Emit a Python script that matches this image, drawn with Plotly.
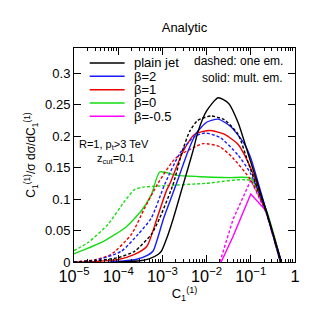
import numpy as np
import plotly.graph_objects as go

# ---- data (log10 of C1 and distribution values) ----
plain_mult_lx = [-4.0, -3.5, -3.3, -3.1, -3.02, -2.9, -2.75, -2.53, -2.31, -2.19, -2.0, -1.74, -1.5, -1.29, -1.06, -0.84, -0.65, -0.31]
plain_mult_y  = [0.0, 0.002, 0.005, 0.012, 0.0175, 0.038, 0.07, 0.123, 0.176, 0.208, 0.240, 0.261, 0.252, 0.222, 0.172, 0.123, 0.081, 0.0]

plain_one_lx = [-5.0, -4.5, -4.0, -3.63, -3.25, -3.06, -2.76, -2.55, -2.38, -2.2, -1.9, -1.6, -1.29, -1.06, -0.84, -0.65, -0.33]
plain_one_y  = [0.0, 0.002, 0.007, 0.017, 0.044, 0.07, 0.123, 0.176, 0.208, 0.225, 0.232, 0.226, 0.203, 0.158, 0.115, 0.080, 0.0]

b2_mult_lx = [-4.2, -3.6, -3.33, -3.21, -2.97, -2.69, -2.42, -2.23, -2.0, -1.74, -1.45, -1.14, -1.0, -0.65, -0.31]
b2_mult_y  = [0.0, 0.004, 0.011, 0.0175, 0.07, 0.123, 0.176, 0.205, 0.222, 0.227, 0.215, 0.187, 0.165, 0.081, 0.0]

b2_one_lx = [-5.0, -4.5, -3.93, -3.55, -3.25, -2.95, -2.61, -2.3, -2.04, -1.7, -1.29, -1.0, -0.65, -0.33]
b2_one_y  = [0.0, 0.003, 0.017, 0.044, 0.07, 0.123, 0.172, 0.198, 0.205, 0.198, 0.170, 0.140, 0.079, 0.0]

b1_mult_lx = [-5.0, -4.5, -4.0, -3.63, -3.35, -3.12, -2.91, -2.84, -2.53, -2.27, -1.93, -1.6, -1.29, -1.02, -0.65, -0.31]
b1_mult_y  = [0.0, 0.001, 0.004, 0.012, 0.025, 0.07, 0.113, 0.123, 0.176, 0.203, 0.209, 0.203, 0.187, 0.152, 0.081, 0.0]

b1_one_lx = [-5.0, -4.5, -4.16, -3.70, -3.40, -3.1, -2.7, -2.08, -1.7, -1.4, -1.0, -0.65, -0.33]
b1_one_y  = [0.0, 0.004, 0.012, 0.044, 0.086, 0.125, 0.165, 0.188, 0.183, 0.165, 0.130, 0.078, 0.0]

b0_mult_lx = [-5.0, -4.68, -4.38, -3.85, -3.48, -3.25, -3.06, -2.7, -2.0, -1.5, -1.0, -0.65, -0.31]
b0_mult_y  = [0.013, 0.022, 0.031, 0.054, 0.081, 0.107, 0.143, 0.138, 0.135, 0.134, 0.133, 0.083, 0.0]

b0_one_lx = [-5.0, -4.68, -4.23, -3.85, -3.63, -3.44, -3.0, -2.0, -1.0, -0.65, -0.33]
b0_one_y  = [0.018, 0.031, 0.060, 0.097, 0.115, 0.119, 0.121, 0.125, 0.129, 0.078, 0.0]

bm05_mult_lx = [-1.67, -1.40, -1.0, -0.65, -0.31]
bm05_mult_y  = [0.0, 0.041, 0.108, 0.081, 0.0]

bm05_one_lx = [-1.70, -1.40, -1.0, -0.65, -0.33]
bm05_one_y  = [0.0, 0.068, 0.130, 0.078, 0.0]

y_ticks = [0, 0.05, 0.1, 0.15, 0.2, 0.25, 0.3]
y_tick_text = ["0", "0.05", "0.1", "0.15", "0.2", "0.25", "0.3"]
legend_labels = ["plain jet", "β=2", "β=1", "β=0", "β=-0.5"]

BLACK, BLUE, RED, GREEN, MAG = "#000000", "#1a1aff", "#ee0000", "#11dd11", "#ff00ff"
legend_colors = [BLACK, BLUE, RED, GREEN, MAG]

fig = go.Figure()

def add(lx, y, color, dashed, shape="spline"):
    fig.add_trace(go.Scatter(
        x=10 ** np.array(lx), y=y, mode="lines",
        line=dict(color=color, width=1.4, dash="3px,2px" if dashed else "solid",
                  shape=shape, smoothing=0.6 if shape == "spline" else None),
        showlegend=False, hoverinfo="skip"))

add(bm05_one_lx, bm05_one_y, MAG, True, "linear")
add(bm05_mult_lx, bm05_mult_y, MAG, False, "linear")
add(b0_one_lx, b0_one_y, GREEN, True)
add(b0_mult_lx, b0_mult_y, GREEN, False)
add(b1_one_lx, b1_one_y, RED, True)
add(b1_mult_lx, b1_mult_y, RED, False)
add(b2_one_lx, b2_one_y, BLUE, True)
add(b2_mult_lx, b2_mult_y, BLUE, False)
add(plain_one_lx, plain_one_y, BLACK, True)
add(plain_mult_lx, plain_mult_y, BLACK, False)

FONT = "Liberation Sans, Arial, sans-serif"

# manual legend
shapes = []
annotations = []
row_y = [0.930, 0.868, 0.805, 0.743, 0.681]
for lab, col, yy in zip(legend_labels, legend_colors, row_y):
    shapes.append(dict(type="line", xref="paper", yref="paper", x0=0.071, x1=0.229, y0=yy, y1=yy,
                       line=dict(color=col, width=1.6)))
    annotations.append(dict(xref="paper", yref="paper", x=0.262, y=yy, text=lab, showarrow=False,
                            xanchor="left", yanchor="middle", font=dict(size=13, color="black", family=FONT)))

annotations += [
    dict(xref="paper", yref="paper", x=0.955, y=0.939, text="dashed: one em.", showarrow=False,
         xanchor="right", yanchor="middle", font=dict(size=12, color="black", family=FONT)),
    dict(xref="paper", yref="paper", x=0.955, y=0.860, text="solid: mult. em.", showarrow=False,
         xanchor="right", yanchor="middle", font=dict(size=12, color="black", family=FONT)),
    dict(xref="paper", yref="paper", x=0.181, y=0.547, text="R=1, p<sub>t</sub>>3 TeV", showarrow=False,
         xanchor="center", yanchor="middle", font=dict(size=11, color="black", family=FONT)),
    dict(xref="paper", yref="paper", x=0.19, y=0.483, text="z<sub>cut</sub>=0.1", showarrow=False,
         xanchor="center", yanchor="middle", font=dict(size=11, color="black", family=FONT)),
]

fig.update_layout(
    width=311, height=311,
    margin=dict(l=66, r=24, t=40, b=57),
    paper_bgcolor="white", plot_bgcolor="white",
    font=dict(family=FONT, size=13, color="black"),
    title=dict(text="Analytic", x=0.5675, xanchor="center", y=0.937, yanchor="middle",
               font=dict(size=13, family=FONT, color="black")),
    shapes=shapes, annotations=annotations,
    showlegend=False,
)
fig.update_xaxes(type="log", range=[-5, 0], dtick=1, exponentformat="power",
                 showline=True, linecolor="black", linewidth=1, mirror="ticks",
                 ticks="inside", ticklen=7, tickcolor="black", showgrid=False, zeroline=False,
                 minor=dict(ticks="inside", ticklen=3, tickcolor="black", showgrid=False),
                 tickfont=dict(size=13, family=FONT),
                 title=dict(text="C<sub>1</sub><sup>(1)</sup>", font=dict(size=13, family=FONT), standoff=4))
fig.update_yaxes(range=[0, 0.34], tickvals=y_ticks, ticktext=y_tick_text,
                 showline=True, linecolor="black", linewidth=1, mirror="ticks",
                 ticks="inside", ticklen=7, tickcolor="black", showgrid=False, zeroline=False,
                 tickfont=dict(size=13, family=FONT),
                 title=dict(text="C<sub>1</sub><sup>(1)</sup>/σ dσ/dC<sub>1</sub><sup>(1)</sup>",
                            font=dict(size=12, family=FONT), standoff=6))

fig.write_html("out.html")
